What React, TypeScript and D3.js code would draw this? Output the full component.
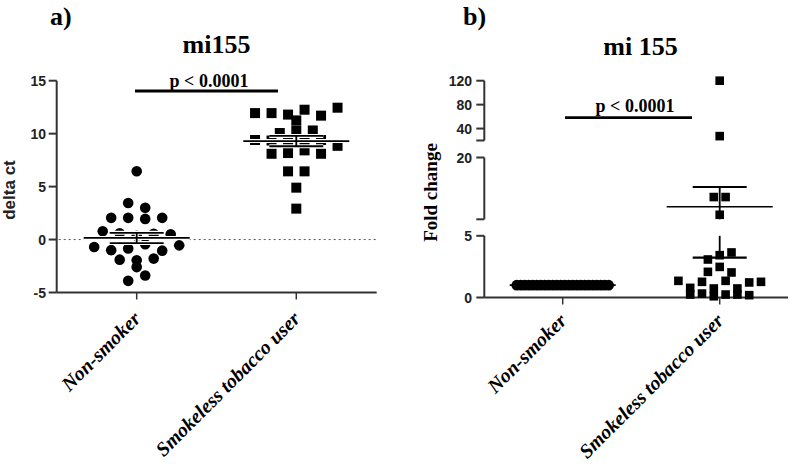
import React from 'react';
import * as d3 from 'd3';

// ---------- data ----------
const categories = ['Non-smoker', 'Smokeless tobacco user'];

const deltaCtNonSmoker = [
  6.45, 3.45, 3.0, 2.05, 2.05, 1.95, 2.05, 0.78, 0.6, 0.35, 0.55, 0.5,
  -0.7, -1.0, -0.85, -0.45, -1.05, -0.55, -1.9, -1.95, -1.8, -2.6, -3.9, -3.4,
];
const deltaCtSmokeless = [
  11.94, 11.94, 11.8, 12.26, 11.7, 12.45, 11.25, 10.06, 10.3, 10.3, 9.4, 9.35,
  9.35, 9.35, 9.4, 8.1, 8.85, 8.17, 8.42, 8.1, 6.44, 6.44, 4.9, 2.92,
];
const foldNonSmoker = [
  1, 1, 1, 1, 1, 1, 1, 1, 1, 1, 1, 1, 1, 1, 1, 1, 1, 1, 1, 1, 1, 1, 1, 1,
];
const foldSmokeless = [
  120, 27.3, 10.4, 10.4, 6.1, 3.08, 3.43, 3.65, 2.08, 2.48, 2.03, 1.35, 0.78,
  1.27, 0.73, 1.35, 0.73, 1.22, 1.27, 0.24, 0.32, 0.1, 0.24, 0.24, 0.19,
];

const deltaTicks = [-5, 0, 5, 10, 15];
const foldSegmentDomains: [number, number][] = [[0, 5], [5, 20], [20, 120]];
const foldSegmentTicks = [[0, 5], [5, 20], [20, 40, 80, 120]];

const titleA = 'mi155';
const titleB = 'mi 155';
const yLabelA = 'delta ct';
const yLabelB = 'Fold change';
const pText = 'p < 0.0001';

// ---------- helpers ----------
const SERIF = '"Liberation Serif", "Times New Roman", serif';
const SANS = '"Liberation Sans", Arial, sans-serif';
const AXIS = '#333';

type Pt = { v: number; i: number; y: number; x: number };

function swarm(values: number[], yFn: (v: number) => number, cx: number,
  spacing: number, maxWidth: number, binPx: number): Pt[] {
  const pts = values.map((v, i) => ({ v, i, y: yFn(v), x: cx }));
  const sorted = [...pts].sort((a, b) => a.y - b.y || a.i - b.i);
  const rows: { y0: number; pts: Pt[] }[] = [];
  let cur: { y0: number; pts: Pt[] } | null = null;
  for (const p of sorted) {
    if (!cur || p.y - cur.y0 >= binPx) {
      cur = { y0: p.y, pts: [] };
      rows.push(cur);
    }
    cur.pts.push(p);
  }
  const out: Pt[] = [];
  rows.forEach((r) => {
    r.pts.sort((a, b) => a.i - b.i);
    const n = r.pts.length;
    const s = n > 1 ? Math.min(spacing, maxWidth / (n - 1)) : 0;
    r.pts.forEach((p, k) => out.push({ ...p, x: cx + (k - (n - 1) / 2) * s }));
  });
  return out;
}

function meanSem(values: number[]) {
  const m = d3.mean(values) as number;
  const sd = values.length > 1 ? (d3.deviation(values) as number) : 0;
  return { m, sem: sd / Math.sqrt(values.length) };
}

// ---------- Panel A ----------
function PanelA() {
  const ax0 = 56.7, ax1 = 376.7;
  const y = d3.scaleLinear().domain([-5, 15]).range([292.5, 80.7]);
  const x = d3.scalePoint<string>().domain(categories).range([136.7, 296.3]);
  const baseY = y(-5);

  const circles = swarm(deltaCtNonSmoker, y, x(categories[0])!, 17, 90, 8.2);
  const squares = swarm(deltaCtSmokeless, y, x(categories[1])!, 16.5, 90, 8.2);
  const stats = [deltaCtNonSmoker, deltaCtSmokeless].map(meanSem);

  return (
    <g>
      <text x={50} y={25} fontFamily={SERIF} fontWeight="bold" fontSize={26}>a)</text>
      <text x={216.5} y={53} textAnchor="middle" fontFamily={SERIF} fontWeight="bold" fontSize={26}>{titleA}</text>

      {/* y axis */}
      <line x1={ax0} x2={ax0} y1={y(15)} y2={baseY} stroke={AXIS} strokeWidth={2} />
      {deltaTicks.map((t) => (
        <g key={t}>
          <line x1={ax0 - 8} x2={ax0} y1={y(t)} y2={y(t)} stroke={AXIS} strokeWidth={2} />
          <text x={46} y={y(t)} dy="0.36em" textAnchor="end" fontFamily={SANS} fontWeight="bold" fontSize={14} fill="#222">{t}</text>
        </g>
      ))}
      <text transform={`translate(14.5, 190) rotate(-90)`} textAnchor="middle" fontFamily={SANS} fontWeight="bold" fontSize={17} fill="#222">{yLabelA}</text>

      {/* x axis */}
      <line x1={ax0} x2={ax1} y1={baseY} y2={baseY} stroke={AXIS} strokeWidth={2} />
      {categories.map((c) => (
        <g key={c}>
          <line x1={x(c)} x2={x(c)} y1={baseY} y2={baseY + 7} stroke={AXIS} strokeWidth={1.5} />
          <text transform={`translate(${x(c)! + 5}, 320) rotate(-45)`} textAnchor="end" fontFamily={SERIF} fontWeight="bold" fontStyle="italic" fontSize={20}>{c}</text>
        </g>
      ))}

      {/* zero reference */}
      <line x1={ax0 + 2} x2={ax1} y1={y(0)} y2={y(0)} stroke="#555" strokeWidth={1} strokeDasharray="2,3" />

      {/* points */}
      {circles.map((p) => <circle key={'c' + p.i} cx={p.x} cy={p.y} r={5.3} fill="#000" />)}
      {squares.map((p) => <rect key={'s' + p.i} x={p.x - 5} y={p.y - 5} width={10} height={10} fill="#000" />)}

      {/* mean & SEM */}
      {stats.map((s, k) => {
        const cx = x(categories[k])!;
        const lines = [
          { yy: y(s.m), hw: 53 },
          { yy: y(s.m + s.sem), hw: 27 },
          { yy: y(s.m - s.sem), hw: 27 },
        ];
        return (
          <g key={k}>
            <line x1={cx} x2={cx} y1={y(s.m + s.sem)} y2={y(s.m - s.sem)} stroke="#fff" strokeWidth={4} />
            {lines.map((l, j) => <line key={'h' + j} x1={cx - l.hw} x2={cx + l.hw} y1={l.yy} y2={l.yy} stroke="#fff" strokeWidth={4} />)}
            <line x1={cx} x2={cx} y1={y(s.m + s.sem)} y2={y(s.m - s.sem)} stroke="#000" strokeWidth={1.8} />
            {lines.map((l, j) => <line key={'b' + j} x1={cx - l.hw} x2={cx + l.hw} y1={l.yy} y2={l.yy} stroke="#000" strokeWidth={1.8} />)}
          </g>
        );
      })}

      {/* significance */}
      <line x1={135} x2={278} y1={91} y2={91} stroke="#000" strokeWidth={2.8} />
      <text x={209} y={87} textAnchor="middle" fontFamily={SERIF} fontWeight="bold" fontSize={18}>{pText}</text>
    </g>
  );
}

// ---------- Panel B ----------
function PanelB() {
  const ax0 = 484.3, ax1 = 788;
  const segRanges: [number, number][] = [[297.5, 235.8], [219.3, 157.5], [140.5, 80.7]];
  const segScales = foldSegmentDomains.map((d, k) => d3.scaleLinear().domain(d).range(segRanges[k]));
  const y = (v: number) => (v <= 5 ? segScales[0](v) : v <= 20 ? segScales[1](v) : segScales[2](v));
  const x = d3.scalePoint<string>().domain(categories).range([562.7, 719.7]);
  const baseY = y(0);

  const circles = swarm(foldNonSmoker, y, x(categories[0])!, 11.8, 92, 8.2);
  const squares = swarm(foldSmokeless, y, x(categories[1])!, 11.8, 96, 8.2);
  const stats = [foldNonSmoker, foldSmokeless].map(meanSem);

  return (
    <g>
      <text x={463} y={25} fontFamily={SERIF} fontWeight="bold" fontSize={26}>b)</text>
      <text x={640.5} y={55} textAnchor="middle" fontFamily={SERIF} fontWeight="bold" fontSize={26}>{titleB}</text>

      {/* segmented y axis */}
      {foldSegmentDomains.map((d, k) => (
        <g key={k}>
          <line x1={ax0} x2={ax0} y1={segScales[k](d[0])} y2={segScales[k](d[1])} stroke={AXIS} strokeWidth={2} />
          {foldSegmentTicks[k].map((t) => (
            <g key={t}>
              <line x1={ax0 - 8} x2={ax0} y1={segScales[k](t)} y2={segScales[k](t)} stroke={AXIS} strokeWidth={2} />
              {(k === 0 || t !== d[0]) && (
                <text x={472} y={segScales[k](t)} dy="0.36em" textAnchor="end" fontFamily={SANS} fontWeight="bold" fontSize={14} fill="#222">{t}</text>
              )}
            </g>
          ))}
        </g>
      ))}
      <text transform={`translate(437, 192.5) rotate(-90)`} textAnchor="middle" fontFamily={SERIF} fontWeight="bold" fontSize={19}>{yLabelB}</text>

      {/* x axis */}
      <line x1={ax0} x2={ax1} y1={baseY} y2={baseY} stroke={AXIS} strokeWidth={2} />
      {categories.map((c) => (
        <g key={c}>
          <line x1={x(c)} x2={x(c)} y1={baseY} y2={baseY + 7} stroke={AXIS} strokeWidth={1.5} />
          <text transform={`translate(${x(c)! + 5}, 322) rotate(-45)`} textAnchor="end" fontFamily={SERIF} fontWeight="bold" fontStyle="italic" fontSize={20}>{c}</text>
        </g>
      ))}

      {/* points */}
      {circles.map((p) => <circle key={'c' + p.i} cx={p.x} cy={p.y} r={5.3} fill="#000" />)}
      {squares.map((p) => <rect key={'s' + p.i} x={p.x - 4.3} y={p.y - 4.3} width={8.6} height={8.6} fill="#000" />)}

      {/* mean & SEM (whisker broken at axis breaks) */}
      {stats.map((s, k) => {
        const cx = x(categories[k])!;
        const lo = s.m - s.sem, hi = s.m + s.sem;
        return (
          <g key={k}>
            {foldSegmentDomains.map((d, j) => {
              const a = Math.max(lo, d[0]), b = Math.min(hi, d[1]);
              if (b <= a) return null;
              return <line key={'w' + j} x1={cx} x2={cx} y1={segScales[j](a)} y2={segScales[j](b)} stroke="#000" strokeWidth={1.8} />;
            })}
            <line x1={cx - 53} x2={cx + 53} y1={y(s.m)} y2={y(s.m)} stroke="#000" strokeWidth={1.6} />
            <line x1={cx - 27} x2={cx + 27} y1={y(hi)} y2={y(hi)} stroke="#000" strokeWidth={2.2} />
            <line x1={cx - 27} x2={cx + 27} y1={y(lo)} y2={y(lo)} stroke="#000" strokeWidth={2.2} />
          </g>
        );
      })}

      {/* significance */}
      <line x1={565} x2={692} y1={117.7} y2={117.7} stroke="#000" strokeWidth={2.8} />
      <text x={635} y={111.5} textAnchor="middle" fontFamily={SERIF} fontWeight="bold" fontSize={18}>{pText}</text>
    </g>
  );
}

export default function App() {
  return (
    <svg width={800} height={469} viewBox="0 0 800 469"
      style={{ position: 'absolute', left: 0, top: 0, background: '#fff' }}>
      <rect width={800} height={469} fill="#fff" />
      <PanelA />
      <PanelB />
    </svg>
  );
}
